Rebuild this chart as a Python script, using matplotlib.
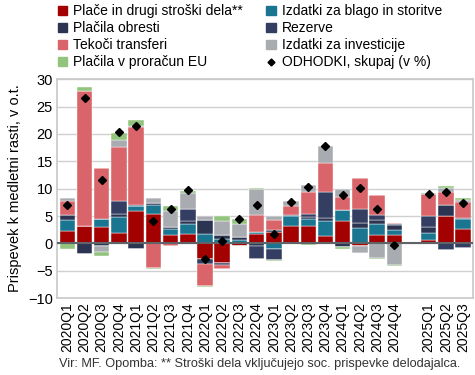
import matplotlib.pyplot as plt
import matplotlib.patches as mpatches
import matplotlib.lines as mlines
import numpy as np

plt.rcParams['font.family'] = ['Liberation Sans', 'DejaVu Sans']

# quarters (empty slot before 2025 as in the original)
quarters = ['2020Q1', '2020Q2', '2020Q3', '2020Q4', '2021Q1', '2021Q2', '2021Q3', '2021Q4',
            '2022Q1', '2022Q2', '2022Q3', '2022Q4', '2023Q1', '2023Q2', '2023Q3', '2023Q4',
            '2024Q1', '2024Q2', '2024Q3', '2024Q4', '', '2025Q1', '2025Q2', '2025Q3']

place = [2.3, 3.1, 2.9, 1.9, 5.9, 5.3, 1.5, 1.7, -2.9, -3.6, -0.4, 1.8,
         2.1, 3.2, 3.2, 1.3, 4.0, -0.5, 1.5, 1.5, 0, 0.6, 5.0, 2.7]
blago = [1.9, 0, 1.6, 3.0, 0.9, 1.8, 1.2, 1.9, 1.8, 0.85, 0.7, 0.25,
         -1.1, 1.8, 1.3, 2.8, 2.1, 2.75, 1.95, 1.0, 0, 1.3, 0, 1.7]
obresti = [0.9, -1.9, -0.5, 0.4, -1.1, 0.2, 0.35, 0.5, 2.4, 0.6, 0.4, -0.5,
           0.4, 0.25, 0.3, 0.6, -0.7, 0.9, 0.9, 0.8, 0, 1.0, 1.95, 0.2]
rezerve = [0, 0, 0, 2.5, 0.3, 0, 0, 2.25, -0.8, -0.4, 0, -2.4,
           -1.9, 0, 0.5, 4.7, 0, 2.7, 0.9, 0.2, 0, 2.05, -1.15, -0.85]
transferi = [2.6, 24.8, 9.3, 9.8, 14.1, -4.5, -0.5, 0, -4.0, -0.6, 0, 3.1,
             1.7, 1.65, 4.1, 5.2, 2.45, 5.5, 3.5, 0.25, 0, 4.0, 2.4, 2.9]
investicije = [0.5, 0, -1.0, 1.2, 0.3, 1.0, 2.9, 2.9, 0.8, 2.6, 2.4, 4.8,
               0.8, 0.85, 1.35, 3.2, 1.45, -1.2, -2.7, -4.0, 0, 0, 0.7, 0.4]
eu = [-1.1, 0.7, -0.85, 1.4, 1.0, -0.25, 0.8, 0.4, -0.2, 0.9, 1.0, 0.1,
      -0.3, -0.2, -0.35, 0, -0.35, -0.1, -0.2, -0.2, 0, 0.2, 0.45, 0.3]
odhodki = [7.1, 26.6, 11.6, 20.3, 21.4, 4.0, 6.2, 9.7, -2.9, 0.5, 4.4, 7.1,
           1.65, 7.6, 10.3, 17.7, 8.9, 10.1, 6.2, -0.25, np.nan, 9.0, 9.4, 7.4]

series = [
    ('Plače in drugi stroški dela**', place, '#a30000'),
    ('Izdatki za blago in storitve', blago, '#1a7590'),
    ('Plačila obresti', obresti, '#2b3552'),
    ('Rezerve', rezerve, '#333e62'),
    ('Tekoči transferi', transferi, '#d9656a'),
    ('Izdatki za investicije', investicije, '#a8abb0'),
    ('Plačila v proračun EU', eu, '#93c47d'),
]

fig = plt.figure(figsize=(4.75, 3.75), dpi=100)
ax = fig.add_axes([0.12, 0.205, 0.875, 0.584])

x = np.arange(len(quarters))
pos_base = np.zeros(len(quarters))
neg_base = np.zeros(len(quarters))

# stack positive and negative parts separately
for name, vals, color in series:
    v = np.array(vals, dtype=float)
    pos = np.where(v > 0, v, 0)
    neg = np.where(v < 0, v, 0)
    ax.bar(x, pos, bottom=pos_base, width=0.9, color=color, edgecolor='white', linewidth=0.3, zorder=3)
    ax.bar(x, neg, bottom=neg_base, width=0.9, color=color, edgecolor='white', linewidth=0.3, zorder=3)
    pos_base += pos
    neg_base += neg

ax.plot(x, odhodki, linestyle='none', marker='D', markersize=4, color='black', zorder=5)

ax.axhline(0, color='#606368', linewidth=1.5, zorder=4)
ax.set_ylim(-10, 30)
ax.set_yticks(range(-10, 31, 5))
ax.set_xlim(-0.6, len(quarters) - 0.45)
ax.set_xticks(x)
ax.set_xticklabels(quarters, rotation=90, fontsize=10)
ax.tick_params(axis='both', length=0, pad=3)
ax.tick_params(axis='y', labelsize=10.5)
ax.grid(axis='y', color='#d0d0d0', linewidth=1, zorder=0)
ax.set_axisbelow(True)
for sp in ax.spines.values():
    sp.set_color('#c8c8c8')
    sp.set_linewidth(1.2)
ax.set_ylabel('Prispevek k medletni rasti, v o.t.', fontsize=10.5, labelpad=4)

# legend, filled row by row (matplotlib fills columns, so reorder)
handles = [mpatches.Patch(color=c, label=n) for n, _, c in series]
handles.append(mlines.Line2D([], [], linestyle='none', marker='D', markersize=3.5,
                             color='black', label='ODHODKI, skupaj (v %)'))
order = [0, 2, 4, 6, 1, 3, 5, 7]
fig.legend([handles[i] for i in order], [handles[i].get_label() for i in order],
           loc='upper left', bbox_to_anchor=(0.095, 1.022), ncol=2, frameon=False,
           fontsize=10, handlelength=0.7, handleheight=0.7, handletextpad=0.4,
           columnspacing=1.7, labelspacing=0.22)

fig.text(0.125, 0.022, 'Vir: MF. Opomba: ** Stroški dela vključujejo soc. prispevke delodajalca.',
         fontsize=9.2, color='#333333')

fig.savefig('out.png', dpi=100)
